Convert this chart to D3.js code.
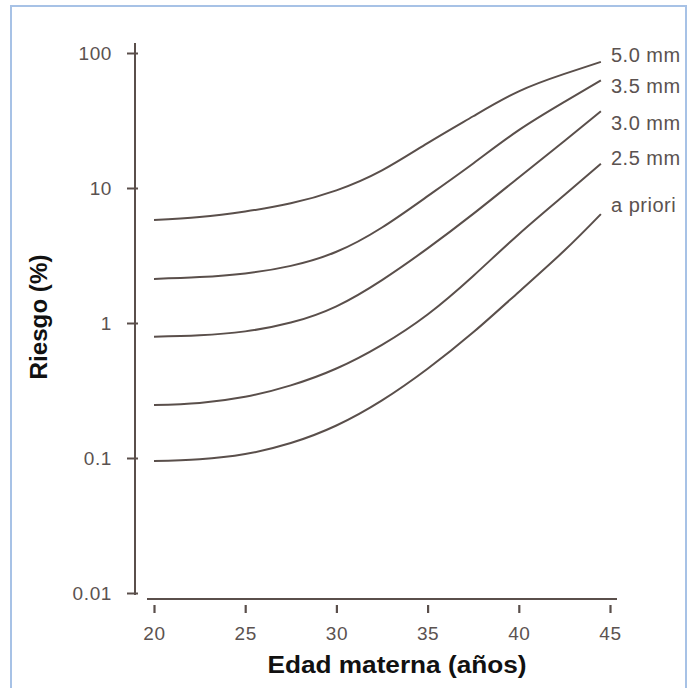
<!DOCTYPE html>
<html>
<head>
<meta charset="utf-8">
<script src="https://cdn.jsdelivr.net/npm/d3@7"></script>
<style>
  html, body { margin: 0; padding: 0; background: #ffffff; }
  svg { display: block; }
</style>
</head>
<body>
<svg id="chart" width="693" height="688"></svg>
<script>
// Maternal age (years) at which each curve is sampled
const ages = [20, 22.5, 25, 27.5, 30, 32.5, 35, 37.5, 40, 42.5, 44.5];

// Risk (%) by nuchal measurement
const risk50 = [5.8, 6.1, 6.7, 7.7, 9.6, 13.5, 21.5, 34, 52, 70, 86];
const risk35 = [2.12, 2.19, 2.33, 2.65, 3.37, 5.1, 8.7, 15.2, 26.8, 43.4, 62.8];
const risk30 = [0.79, 0.81, 0.867, 1.007, 1.33, 2.08, 3.57, 6.43, 11.97, 22.3, 37];
const risk25 = [0.247, 0.256, 0.284, 0.345, 0.46, 0.689, 1.156, 2.23, 4.55, 8.87, 15.1];
const riskPrior = [0.095, 0.098, 0.107, 0.129, 0.174, 0.267, 0.458, 0.853, 1.7, 3.44, 6.4];

const seriesNames = ["5.0 mm", "3.5 mm", "3.0 mm", "2.5 mm", "a priori"];
const seriesValues = [risk50, risk35, risk30, risk25, riskPrior];

const xTicks = [20, 25, 30, 35, 40, 45];
const yTicks = [0.01, 0.1, 1, 10, 100];
const yTickLabels = ["0.01", "0.1", "1", "10", "100"];

const xTitle = "Edad materna (años)";
const yTitle = "Riesgo (%)";

// ---- drawing ----
const svg = d3.select("#chart");
const ink = "#5a4f4b";
const textInk = "#5b5250";
const font = "'Liberation Sans', Arial, sans-serif";

// frame
svg.append("rect")
  .attr("x", 11).attr("y", 6).attr("width", 675).attr("height", 700)
  .attr("fill", "none").attr("stroke", "#a7c2e6").attr("stroke-width", 2);

const x = d3.scaleLinear().domain([20, 45]).range([154, 610]);
const y = d3.scaleLog().domain([0.01, 100]).range([593, 53]);

// y axis
svg.append("line")
  .attr("x1", 135).attr("x2", 135).attr("y1", 43).attr("y2", 595)
  .attr("stroke", ink).attr("stroke-width", 2);

const yAxis = svg.append("g")
  .attr("transform", "translate(138,0)")
  .call(d3.axisLeft(y).tickValues(yTicks).tickSize(11).tickPadding(15)
    .tickFormat((d, i) => yTickLabels[i]));
yAxis.select(".domain").remove();
yAxis.selectAll(".tick line").attr("stroke", ink).attr("stroke-width", 2);
yAxis.selectAll(".tick text")
  .attr("fill", textInk).attr("font-family", font).attr("font-size", 19)
  .attr("letter-spacing", 0.6);

// x axis
svg.append("line")
  .attr("x1", x.range()[0] - 7).attr("x2", x.range()[1] + 7)
  .attr("y1", 599).attr("y2", 599)
  .attr("stroke", ink).attr("stroke-width", 2);

const xAxis = svg.append("g")
  .attr("transform", "translate(0,605)")
  .call(d3.axisBottom(x).tickValues(xTicks).tickSize(8).tickPadding(14)
    .tickFormat(d3.format("d")));
xAxis.select(".domain").remove();
xAxis.selectAll(".tick line").attr("stroke", ink).attr("stroke-width", 2.2);
xAxis.selectAll(".tick text")
  .attr("fill", textInk).attr("font-family", font).attr("font-size", 19)
  .attr("letter-spacing", 0.6);

// titles
svg.append("text")
  .attr("x", 397).attr("y", 673)
  .attr("text-anchor", "middle")
  .attr("font-family", font).attr("font-weight", "bold").attr("font-size", 23)
  .attr("textLength", 259).attr("lengthAdjust", "spacingAndGlyphs")
  .attr("fill", "#111")
  .text(xTitle);

svg.append("text")
  .attr("transform", "translate(47,317) rotate(-90)")
  .attr("text-anchor", "middle")
  .attr("font-family", font).attr("font-weight", "bold").attr("font-size", 23)
  .attr("textLength", 125).attr("lengthAdjust", "spacingAndGlyphs")
  .attr("fill", "#111")
  .text(yTitle);

// curves
const line = d3.line()
  .x((d, i) => x(ages[i]))
  .y(d => y(d))
  .curve(d3.curveNatural);

svg.append("g").selectAll("path")
  .data(seriesValues)
  .join("path")
  .attr("d", line)
  .attr("fill", "none")
  .attr("stroke", ink)
  .attr("stroke-width", 2);

// end labels, baseline offset from each curve's last point
const labelDy = [0, 13, 19, 1, -2];
svg.append("g").selectAll("text")
  .data(seriesNames)
  .join("text")
  .attr("x", 611)
  .attr("y", (d, i) => y(seriesValues[i][seriesValues[i].length - 1]) + labelDy[i])
  .attr("font-family", font).attr("font-size", 20)
  .attr("letter-spacing", 0.5)
  .attr("fill", textInk)
  .text(d => d);
</script>
</body>
</html>
